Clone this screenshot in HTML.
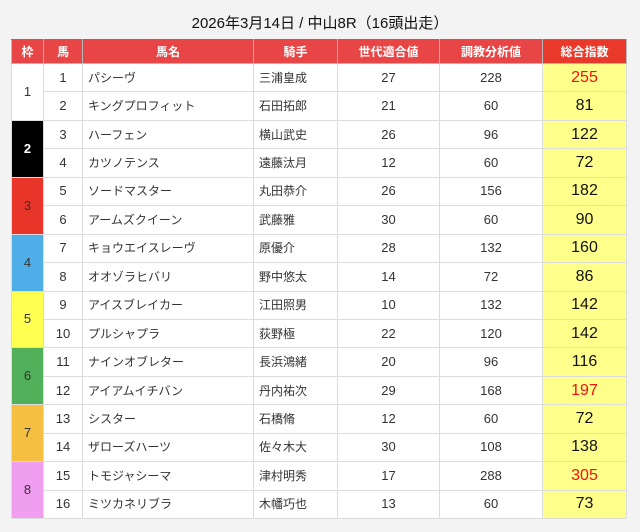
<!DOCTYPE html>
<html>
<head>
<meta charset="utf-8">
<style>
html,body{margin:0;padding:0;}
body{width:640px;height:532px;overflow:hidden;background:#f3f3f3;position:relative;
  font-family:"Liberation Sans","Noto Sans CJK JP",sans-serif;}
.title{position:absolute;left:0;top:14px;width:640px;text-align:center;font-size:15px;color:#111;line-height:20px;}
table{position:absolute;left:11px;top:39px;width:615px;border-collapse:collapse;table-layout:fixed;background:#fff;}
th,td{padding:0;border:1px solid #dcdcdc;font-size:13px;color:#333;text-align:center;white-space:nowrap;overflow:hidden;line-height:16px;}
th{background:#e84646;color:#fff;font-weight:bold;font-size:12px;height:23px;border:1px solid #b9b9b9;border-top-color:#e84646;}
th.sc{background:#e8392a;}
tr.r td{height:27.44px;}
td.n{text-align:left;padding-left:5px;font-size:12px;}
td.sc{background:#ffff8c;font-size:16px;color:#111;}
td.sc.red{color:#f01010;}
.f1{background:#fff;}
.f2{background:#000;color:#fff;font-weight:bold;}
.f3{background:#e8352a;color:#333;}
.f4{background:#4eaee8;color:#333;}
.f5{background:#ffff50;color:#333;}
.f6{background:#52b05a;color:#333;}
.f7{background:#f5c042;color:#333;}
.f8{background:#f09ef0;color:#333;}
</style>
</head>
<body>
<div class="title">2026年3月14日 / 中山8R（16頭出走）</div>
<table>
<colgroup>
<col style="width:32px"><col style="width:39px"><col style="width:171px"><col style="width:84px"><col style="width:102px"><col style="width:103px"><col style="width:84px">
</colgroup>
<tr><th>枠</th><th>馬</th><th>馬名</th><th>騎手</th><th>世代適合値</th><th>調教分析値</th><th class="sc">総合指数</th></tr>
<tr class="r"><td rowspan="2" class="f1">1</td><td>1</td><td class="n">パシーヴ</td><td class="n">三浦皇成</td><td>27</td><td>228</td><td class="sc red">255</td></tr>
<tr class="r"><td>2</td><td class="n">キングプロフィット</td><td class="n">石田拓郎</td><td>21</td><td>60</td><td class="sc">81</td></tr>
<tr class="r"><td rowspan="2" class="f2">2</td><td>3</td><td class="n">ハーフェン</td><td class="n">横山武史</td><td>26</td><td>96</td><td class="sc">122</td></tr>
<tr class="r"><td>4</td><td class="n">カツノテンス</td><td class="n">遠藤汰月</td><td>12</td><td>60</td><td class="sc">72</td></tr>
<tr class="r"><td rowspan="2" class="f3">3</td><td>5</td><td class="n">ソードマスター</td><td class="n">丸田恭介</td><td>26</td><td>156</td><td class="sc">182</td></tr>
<tr class="r"><td>6</td><td class="n">アームズクイーン</td><td class="n">武藤雅</td><td>30</td><td>60</td><td class="sc">90</td></tr>
<tr class="r"><td rowspan="2" class="f4">4</td><td>7</td><td class="n">キョウエイスレーヴ</td><td class="n">原優介</td><td>28</td><td>132</td><td class="sc">160</td></tr>
<tr class="r"><td>8</td><td class="n">オオゾラヒバリ</td><td class="n">野中悠太</td><td>14</td><td>72</td><td class="sc">86</td></tr>
<tr class="r"><td rowspan="2" class="f5">5</td><td>9</td><td class="n">アイスブレイカー</td><td class="n">江田照男</td><td>10</td><td>132</td><td class="sc">142</td></tr>
<tr class="r"><td>10</td><td class="n">プルシャプラ</td><td class="n">荻野極</td><td>22</td><td>120</td><td class="sc">142</td></tr>
<tr class="r"><td rowspan="2" class="f6">6</td><td>11</td><td class="n">ナインオブレター</td><td class="n">長浜鴻緒</td><td>20</td><td>96</td><td class="sc">116</td></tr>
<tr class="r"><td>12</td><td class="n">アイアムイチバン</td><td class="n">丹内祐次</td><td>29</td><td>168</td><td class="sc red">197</td></tr>
<tr class="r"><td rowspan="2" class="f7">7</td><td>13</td><td class="n">シスター</td><td class="n">石橋脩</td><td>12</td><td>60</td><td class="sc">72</td></tr>
<tr class="r"><td>14</td><td class="n">ザローズハーツ</td><td class="n">佐々木大</td><td>30</td><td>108</td><td class="sc">138</td></tr>
<tr class="r"><td rowspan="2" class="f8">8</td><td>15</td><td class="n">トモジャシーマ</td><td class="n">津村明秀</td><td>17</td><td>288</td><td class="sc red">305</td></tr>
<tr class="r"><td>16</td><td class="n">ミツカネリブラ</td><td class="n">木幡巧也</td><td>13</td><td>60</td><td class="sc">73</td></tr>
</table>
</body>
</html>
